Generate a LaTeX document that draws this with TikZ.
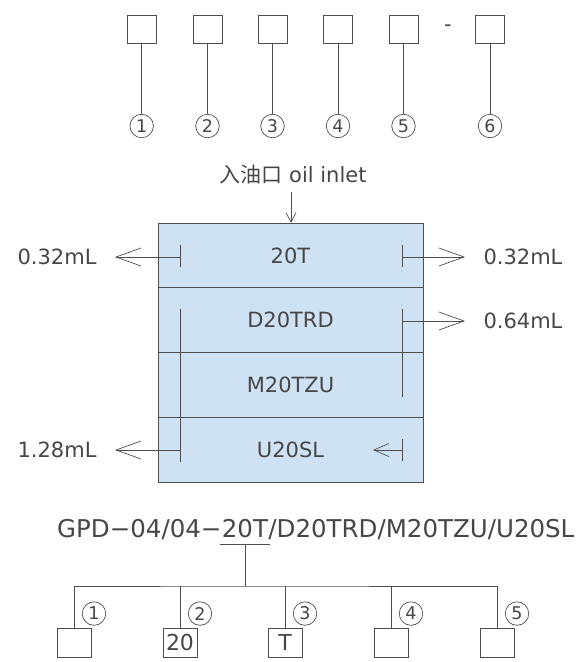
\documentclass[tikz,border=0pt]{standalone}
\usepackage{fontspec}
\setmainfont{DejaVu Sans}
\newfontfamily\cjk{Noto Sans CJK SC}
\usepackage{tikz}
\usetikzlibrary{arrows.meta,positioning,calc}
\definecolor{Ink}{HTML}{464646}
\definecolor{Wire}{HTML}{4E4E4E}
\definecolor{LayerBlue}{HTML}{CFE2F3}

\begin{document}
\begin{tikzpicture}[x=1pt,y=-1pt,font=\fontsize{21}{25}\selectfont,text=Ink,
  wire/.style={draw=Wire,line width=0.9pt},
  sqbox/.style={draw=Wire,line width=0.9pt,minimum width=29pt,minimum height=28pt,inner sep=0pt},
  pbox/.style={draw=Wire,line width=0.9pt,minimum width=34pt,minimum height=29pt,inner sep=0pt,font=\fontsize{22}{26}\selectfont},
  numcirc/.style={circle,draw=Wire,line width=0.7pt,minimum size=23.5pt,inner sep=0pt,font=\fontsize{17.5}{20}\selectfont},
  layer/.style={draw=Wire,fill=LayerBlue,line width=0.9pt,minimum width=265pt,minimum height=64.75pt,inner sep=0pt},
  flow/.style={draw=Wire,line width=0.7pt,-{Straight Barb[length=25pt,width=18pt]}},
  backflow/.style={draw=Wire,line width=0.7pt,-{Straight Barb[length=15pt,width=13pt]}},
  inflow/.style={draw=Wire,line width=0.7pt,-{Straight Barb[length=9pt,width=10pt]}},
  code/.style={inner sep=0pt,font=\fontsize{24.5}{28}\selectfont}]
  \useasboundingbox (0,0) rectangle (581,662);

  \foreach \i/\x in {1/141.7,2/207.5,3/272.5,4/338,5/403.5,6/490}{
    \node[sqbox] (sq\i) at (\x,29) {};
    \node[numcirc] (num\i) at (\x,126) {\i};
    \draw[wire] (sq\i.south) -- (num\i.north);
  }
  \node (dash) at (448,28) {-};

  \node (inlet) at (293,175) {{\cjk 入油口} oil inlet};
  \foreach \n/\t/\y in {a/20T/255.4,b/D20TRD/320.1,c/M20TZU/384.9,d/U20SL/449.6}{
    \node[layer] (lay\n) at (290.5,\y) {\t};
  }
  \coordinate (inl) at (291,192);
  \draw[inflow] (inl) -- (inl |- laya.north);

  \coordinate (tipA) at (115,257);
  \coordinate (tipB) at (465,257);
  \coordinate (tipC) at (465,321);
  \coordinate (tipD) at (115,450);
  \coordinate (tipE) at (373,450);
  \draw[wire] (180,245) -- (180,267);
  \draw[flow] (180,257) -- (tipA);
  \draw[wire] (402,245) -- (402,267);
  \draw[flow] (402,257) -- (tipB);
  \draw[wire] (402,309) -- (402,397);
  \draw[flow] (402,321) -- (tipC);
  \draw[wire] (180,309) -- (180,462);
  \draw[flow] (180,450) -- (tipD);
  \draw[wire] (402,439) -- (402,461);
  \draw[backflow] (402,450) -- (tipE);
  \node[left=15pt of tipA] (volA) {0.32mL};
  \node[right=15pt of tipB] (volB) {0.32mL};
  \node[right=15pt of tipC] (volC) {0.64mL};
  \node[left=15pt of tipD] (volD) {1.28mL};

  \node[code,anchor=base west] (codeA) at (57,537) {GPD−04/04−};
  \node[code,base right=0pt of codeA] (code20T) {20T};
  \node[code,base right=0pt of code20T] (codeB) {/D20TRD/M20TZU/U20SL};
  \draw[wire] ([xshift=-2pt,yshift=-7pt]code20T.base west) -- ([xshift=2pt,yshift=-7pt]code20T.base east);
  \coordinate (ulmid) at ([yshift=-7pt]code20T.base);
  \path (ulmid) ++(0,42) coordinate (bus);

  \foreach \i/\x/\t in {1/74/{},2/180/20,3/285/T,4/391/{},5/497/{}}{
    \node[pbox] (pos\i) at (\x,642.5) {\t};
    \node[numcirc] (tag\i) at ($(pos\i.north)+(20,-14)$) {\i};
  }
  \draw[wire] (ulmid) -- (bus);
  \draw[wire] (pos1.north) |- (bus) -| (pos5.north);
  \foreach \i in {2,3,4}{
    \draw[wire] (pos\i.north) -- (pos\i.north |- bus);
  }
\end{tikzpicture}
\end{document}
